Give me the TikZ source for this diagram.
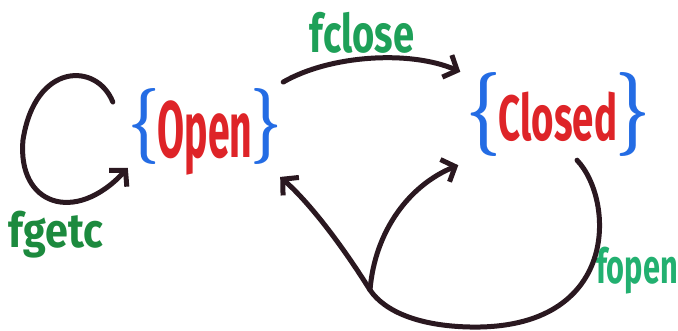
\documentclass[tikz,border=0pt]{standalone}
\usepackage{fontspec}
\setmainfont{Fira Sans}
\newfontfamily\bracefont{Latin Modern Roman}
\usepackage{graphicx}
\usetikzlibrary{arrows.meta,calc}

\definecolor{ink}{RGB}{42,24,32}
\definecolor{bracecol}{RGB}{36,108,228}
\definecolor{statecol}{RGB}{222,36,40}
\definecolor{getccol}{RGB}{28,138,62}
\definecolor{closecol}{RGB}{30,160,88}
\definecolor{opencol}{RGB}{34,176,112}

% brace glyph: #1 glyph, #2 size, #3 raise
\newcommand{\bracepart}[3]{\raisebox{#3}{\scalebox{0.72}[1]{\textcolor{bracecol}{\bracefont\bfseries\fontsize{#2}{#2}\selectfont #1}}}}
% #1 word, #2 word size, #3 word x-scale, #4 brace size, #5 brace raise,
% #6 kern after the opening brace, #7 kern before the closing brace, #8 lead space
\newcommand{\statetext}[8]{%
  \makebox[0pt][c]{\hspace*{#8}%
  \bracepart{\{}{#4}{#5}\kern#6%
  \scalebox{#3}[1]{\textcolor{statecol}{\bfseries\fontsize{#2}{#2}\selectfont #1}}%
  \kern#7\bracepart{\}}{#4}{#5}}}

\begin{document}
\begin{tikzpicture}[x=1pt,y=-1pt,
  statebox/.style n args={3}{inner sep=0pt, text width=#1, align=center,
    text height=#2, text depth=#3},
  edgelabel/.style={inner sep=0pt, font=\bfseries\fontsize{48}{48}\selectfont},
  flow/.style={draw=ink, line width=5pt, line cap=round,
    -{Straight Barb[length=11pt,width=24pt,line width=5pt]}},
  plain/.style={draw=ink, line width=5pt, line cap=round}]
  \useasboundingbox (0,0) rectangle (678,330);

  % the two states
  \node[statebox={150pt}{69pt}{6.5pt}] (open) at (205,126)
    {\statetext{Open}{80pt}{0.49}{76pt}{12pt}{-2pt}{-2pt}{0pt}};
  \node[statebox={165pt}{65pt}{15pt}] (closed) at (553,115)
    {\statetext{Closed}{64pt}{0.6}{84pt}{5pt}{-2pt}{-2pt}{10pt}};

  % transition labels
  \node[edgelabel, text=closecol, font=\bfseries\fontsize{53}{53}\selectfont] (lclose) at (362,33)
    {\scalebox{0.72}[1]{fclose}};
  \node[edgelabel, text=getccol] (lgetc) at (56,235)
    {\scalebox{0.86}[1]{fgetc}};
  \node[edgelabel, text=opencol] (lopen) at (637,271)
    {\scalebox{0.64}[1]{fopen}};

  % fgetc: loop back into Open
  \draw[flow] ($(open.west)+(-17,-24)$)
    .. controls (97,62) and (35,62) .. (23,140)
    .. controls (17,205) and (75,225) .. ($(open.south west)+(-2,4)$);

  % fclose: Open to Closed
  \draw[flow] ($(open.north east)+(3,-6)$)
    .. controls (330,55) and (410,50) .. ($(closed.north west)+(-10,-3)$);

  % fopen: from Closed round to a fork, then to both states
  \coordinate (fork) at (370,290);
  \draw[plain] ($(closed.south)+(24,5)$)
    .. controls (615,200) and (620,330) .. (470,327)
    .. controls (420,326) and (385,312) .. (fork);
  \draw[flow] (fork) .. controls (345,250) and (312,205) .. ($(open.south east)+(0,13)$);
  \draw[flow] (fork) .. controls (375,230) and (410,185) .. ($(closed.south west)+(-12,10)$);
\end{tikzpicture}
\end{document}
